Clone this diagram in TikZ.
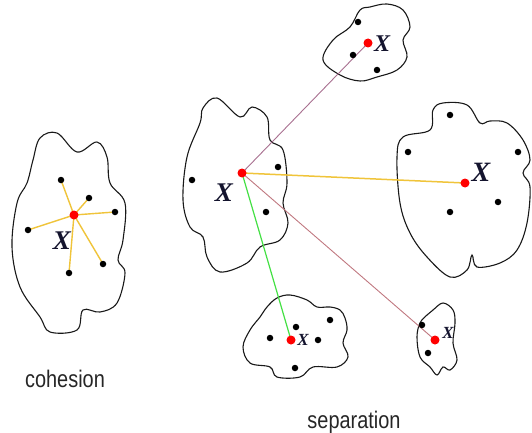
\documentclass[tikz,border=0pt]{standalone}
\usepackage{fontspec}
\setmainfont{Liberation Serif}
\newfontfamily\lsans{Liberation Sans}
\pgfdeclarelayer{bg}
\pgfsetlayers{bg,main}
\definecolor{xcol}{HTML}{14142E}
\definecolor{ylw}{HTML}{F0C43A}
\definecolor{grn}{HTML}{44E044}
\definecolor{mauve}{HTML}{A87090}
\definecolor{rosy}{HTML}{C07880}
\tikzset{
  blob/.style={draw=black!90, line width=1.1pt, fill=white},
  dot/.style={circle, fill=black, inner sep=0pt, minimum size=6.5pt},
  rdot/.style={circle, fill=red, inner sep=0pt, minimum size=9pt},
  xlab/.style={text=xcol, inner sep=0pt, font=\fontsize{#1}{#1}\selectfont\bfseries\itshape},
  caption/.style={inner sep=0pt, xscale=0.83, font=\lsans\fontsize{24}{24}\selectfont, text=black!85},
  link/.style={line width=1pt}
}
\begin{document}
\begin{tikzpicture}[x=1pt,y=-1pt]
\useasboundingbox (0,0) rectangle (532,433);
% ---- blobs ----
\begin{pgfonlayer}{bg}
% cohesion blob
\draw[blob] plot[smooth cycle, tension=0.6] coordinates {
 (57,133) (77,152) (97,142) (107,157) (110,183) (125,203) (123,240) (118,260)
 (125,273) (117,303) (100,312) (83,310) (77,330) (50,332) (40,317) (20,287)
 (12,247) (17,203) (27,183) (33,160) (40,138)};
% main blob
\draw[blob] plot[smooth cycle, tension=0.6] coordinates {
 (217,98) (240,117) (252,107) (267,117) (270,140) (283,150) (287,183)
 (283,203) (288,223) (280,240) (260,247) (247,263) (220,272) (207,257)
 (203,237) (190,227) (183,200) (187,157) (200,123) (203,108)};
% top blob
\draw[blob] plot[smooth cycle, tension=0.6] coordinates {
 (370,7) (387,4) (403,10) (410,27) (403,40) (407,57) (397,70) (377,77)
 (360,81) (340,75) (323,60) (333,40) (350,27) (360,10)};
% right blob
\draw[blob] plot[smooth cycle, tension=0.6] coordinates {
 (443,103) (467,105) (480,123) (490,121) (507,123) (523,140) (530,160)
 (523,173) (530,187) (527,223) (517,250) (500,263) (477,267) (472,255)
 (467,270) (450,277) (427,257) (410,233) (400,203) (397,157) (403,137)
 (430,130) (433,110)};
% bottom blob
\draw[blob] plot[smooth cycle, tension=0.6] coordinates {
 (277,298) (290,295) (307,300) (317,307) (330,307) (340,310) (345,318)
 (347,330) (343,343) (348,357) (337,367) (313,367) (300,377) (277,377)
 (270,367) (250,363) (243,347) (250,330) (260,317) (267,307)};
% small right blob
\draw[blob] plot[smooth cycle, tension=0.6] coordinates {
 (433,310) (443,303) (453,310) (455,323) (453,343) (457,360) (450,370)
 (443,367) (437,375) (430,367) (420,357) (417,337) (420,323) (427,315)};
\end{pgfonlayer}
% ---- points ----
% cohesion
\node[rdot] (c) at (74,215) {};
\node[dot] (c1) at (61,180) {};
\node[dot] (c2) at (89,198) {};
\node[dot] (c3) at (115,212) {};
\node[dot] (c4) at (28,230) {};
\node[dot] (c5) at (103,264) {};
\node[dot] (c6) at (69,273) {};
\node[xlab=27] (cx) at (62,241) {X};
% main
\node[rdot] (m) at (242,173) {};
\node[dot] (m1) at (278,167) {};
\node[dot] (m2) at (192,180) {};
\node[dot] (m3) at (266,212) {};
\node[xlab=27] (mx) at (224,193) {X};
% top
\node[rdot] (t) at (368,43) {};
\node[dot] (t1) at (358,22) {};
\node[dot] (t2) at (353,55) {};
\node[dot] (t3) at (377,70) {};
\node[xlab=24] (tx) at (382,44) {X};
% right
\node[rdot] (r) at (465,183) {};
\node[dot] (r1) at (450,115) {};
\node[dot] (r2) at (408,152) {};
\node[dot] (r3) at (518,152) {};
\node[dot] (r4) at (498,202) {};
\node[dot] (r5) at (450,212) {};
\node[xlab=28] (rx) at (481,172) {X};
% bottom
\node[rdot] (b) at (291,340) {};
\node[dot] (b1) at (296,327) {};
\node[dot] (b2) at (270,338) {};
\node[dot] (b3) at (318,340) {};
\node[dot] (b4) at (330,320) {};
\node[dot] (b5) at (295,368) {};
\node[xlab=17] (bx) at (303,340) {X};
% small right
\node[rdot] (s) at (435,340) {};
\node[dot] (s1) at (422,325) {};
\node[dot] (s2) at (428,353) {};
\node[xlab=17] (sx) at (448,333) {X};
% ---- links ----
\begin{pgfonlayer}{bg}
\foreach \p in {c1,c2,c3,c4,c5,c6}
  \draw[link, ylw, line width=1.4pt] (c.center) -- (\p.center);
\draw[link, mauve, line width=0.9pt] (m.center) -- (t.center);
\draw[link, ylw, line width=1.5pt] (m.center) -- (r.center);
\draw[link, grn, line width=1.2pt] (m.center) -- (b.center);
\draw[link, rosy, line width=0.9pt] (m.center) -- (s.center);
\end{pgfonlayer}
% ---- captions ----
\node[caption, anchor=base] (coh) at (65,387) {cohesion};
\node[caption, anchor=base] (sep) at (354,428) {separation};
\end{tikzpicture}
\end{document}
